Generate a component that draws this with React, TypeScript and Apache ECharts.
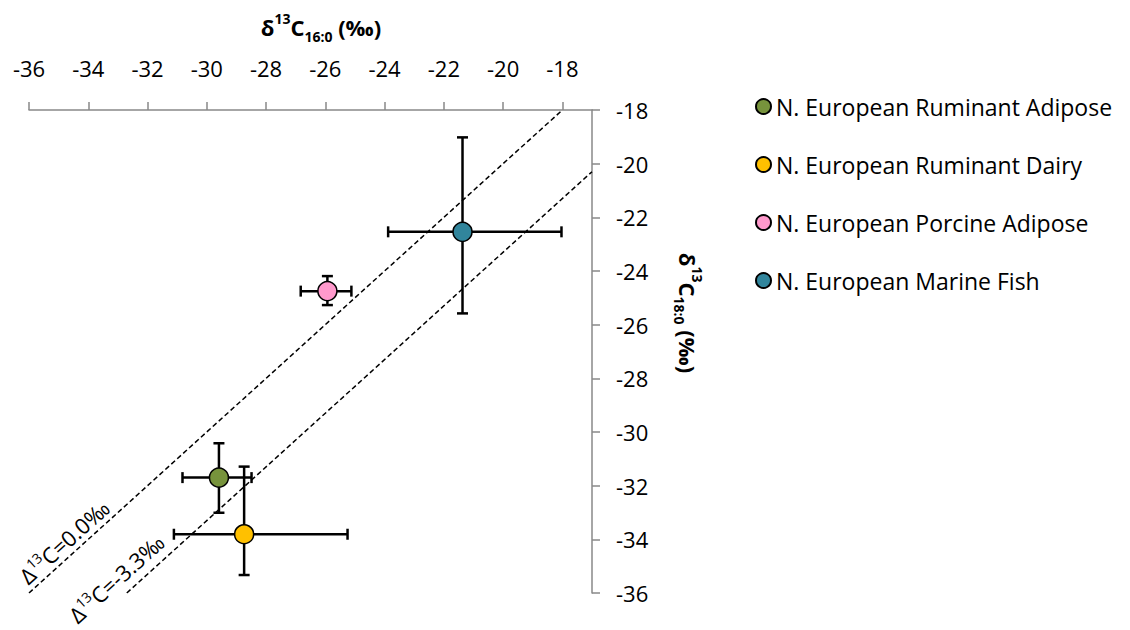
import React, { useEffect, useRef } from "react";
import * as echarts from "echarts";

// ---- Data ----
const seriesNames = [
  "N. European Ruminant Adipose",
  "N. European Ruminant Dairy",
  "N. European Porcine Adipose",
  "N. European Marine Fish",
];
const seriesColors = ["#77933C", "#FFC000", "#FF99CC", "#31859C"];
const xMean = [-29.59, -28.74, -25.93, -21.37]; // δ13C16:0
const yMean = [-31.7, -33.81, -24.75, -22.54]; // δ13C18:0
const xLow = [-30.82, -31.11, -26.83, -23.88];
const xHigh = [-28.49, -25.25, -25.12, -18.03];
const yLow = [-33.01, -35.33, -25.27, -25.58];
const yHigh = [-30.42, -31.29, -24.19, -19.02];

// reference lines (Δ13C = δ18:0 − δ16:0)
const line0X = [-36, -18];
const line0Y = [-36, -18];
const line33X = [-32.7, -17];
const line33Y = [-36, -20.3];

// line label anchors (data coords)
const lineLabels = [
  { text: "{a|Δ}{s|13}{a|C=0.0‰}", at: [-34.82, -34.08] },
  { text: "{a|Δ}{s|13}{a|C=-3.3‰}", at: [-33.06, -35.45] },
];

const xTitle = "{b|δ}{sup|13}{b|C}{sub|16:0}{b| (‰)}";
const yTitle = "{b|δ}{sup|13}{b|C}{sub|18:0}{b| (‰)}";

const xMin = -36;
const xMax = -17;
const yMin = -36;
const yMax = -18;
const tickStep = 2;

const FONT = "Open Sans";
const axisGrey = "#898989";

export default function App() {
  const ref = useRef<HTMLDivElement>(null);

  useEffect(() => {
    if (!ref.current) return;
    const chart = echarts.init(ref.current, undefined, { renderer: "svg" });

    const errData = xMean.map((x, i) => [x, yMean[i], xLow[i], xHigh[i], yLow[i], yHigh[i]]);

    const titleRich = {
      b: { fontSize: 22, fontWeight: "bold", fontFamily: FONT, fill: "#000", lineHeight: 32 },
      sup: { fontSize: 14, fontWeight: "bold", fontFamily: FONT, fill: "#000", verticalAlign: "top", lineHeight: 14 },
      sub: { fontSize: 14, fontWeight: "bold", fontFamily: FONT, fill: "#000", verticalAlign: "bottom", lineHeight: 14 },
    };

    const option: any = {
      animation: false,
      backgroundColor: "#fff",
      grid: { left: 29, right: 538, top: 110, bottom: 37 },
      legend: {
        orient: "vertical",
        left: 755,
        top: 95,
        padding: 0,
        icon: "circle",
        itemWidth: 15,
        itemHeight: 15,
        itemGap: 35,
        data: seriesNames,
        textStyle: { fontSize: 23, fontFamily: FONT, color: "#000" },
      },
      xAxis: {
        type: "value",
        position: "top",
        min: xMin,
        max: xMax,
        interval: tickStep,
        splitLine: { show: false },
        axisLine: { show: true, onZero: false, lineStyle: { color: axisGrey, width: 1.5 } },
        axisTick: { show: true, length: 8, lineStyle: { color: axisGrey, width: 1.5 } },
        axisLabel: { fontSize: 22, fontFamily: FONT, color: "#000", margin: 31, showMaxLabel: false },
      },
      yAxis: {
        type: "value",
        position: "right",
        min: yMin,
        max: yMax,
        interval: tickStep,
        splitLine: { show: false },
        axisLine: { show: true, onZero: false, lineStyle: { color: axisGrey, width: 1.5 } },
        axisTick: { show: true, length: 8, lineStyle: { color: axisGrey, width: 1.5 } },
        axisLabel: { fontSize: 22, fontFamily: FONT, color: "#000", margin: 24 },
      },
      series: [
        {
          type: "line",
          name: "line0",
          data: line0X.map((x, i) => [x, line0Y[i]]),
          showSymbol: false,
          symbol: "none",
          lineStyle: { color: "#000", width: 1.5, type: [5, 3] },
          z: 1,
          silent: true,
        },
        {
          type: "line",
          name: "line33",
          data: line33X.map((x, i) => [x, line33Y[i]]),
          showSymbol: false,
          symbol: "none",
          lineStyle: { color: "#000", width: 1.5, type: [5, 3] },
          z: 1,
          silent: true,
        },
        {
          type: "custom",
          name: "errors",
          data: errData,
          encode: { x: 0, y: 1 },
          z: 2,
          renderItem: (params: any, api: any) => {
            const xv = api.value(0);
            const yv = api.value(1);
            const xl = api.coord([api.value(2), yv]);
            const xh = api.coord([api.value(3), yv]);
            const yl = api.coord([xv, api.value(4)]);
            const yh = api.coord([xv, api.value(5)]);
            const cap = 5.5;
            const style = { stroke: "#000", lineWidth: 2.5, fill: null };
            const mk = (x1: number, y1: number, x2: number, y2: number) => ({
              type: "line",
              shape: { x1, y1, x2, y2 },
              style,
            });
            return {
              type: "group",
              children: [
                mk(xl[0], xl[1], xh[0], xh[1]),
                mk(xl[0], xl[1] - cap, xl[0], xl[1] + cap),
                mk(xh[0], xh[1] - cap, xh[0], xh[1] + cap),
                mk(yl[0], yl[1], yh[0], yh[1]),
                mk(yl[0] - cap, yl[1], yl[0] + cap, yl[1]),
                mk(yh[0] - cap, yh[1], yh[0] + cap, yh[1]),
              ],
            };
          },
        },
        ...seriesNames.map((name, i) => ({
          type: "scatter",
          name,
          data: [[xMean[i], yMean[i]]],
          symbol: "circle",
          symbolSize: 19,
          itemStyle: { color: seriesColors[i], borderColor: "#000", borderWidth: 1.5, opacity: 1 },
          z: 3,
        })),
      ],
    };

    chart.setOption(option);

    // rotated labels along the reference lines
    const p1 = chart.convertToPixel({ gridIndex: 0 }, [line0X[0], line0Y[0]]) as number[];
    const p2 = chart.convertToPixel({ gridIndex: 0 }, [line0X[1], line0Y[1]]) as number[];
    const angle = Math.atan2(-(p2[1] - p1[1]), p2[0] - p1[0]);
    const graphics: any[] = lineLabels.map((l) => {
      const p = chart.convertToPixel({ gridIndex: 0 }, l.at) as number[];
      return {
        type: "text",
        x: p[0],
        y: p[1],
        rotation: angle,
        z: 10,
        style: {
          text: l.text,
          align: "center",
          verticalAlign: "middle",
          rich: {
            a: { fontSize: 22, fontFamily: FONT, fill: "#000", lineHeight: 26 },
            s: { fontSize: 14, fontFamily: FONT, fill: "#000", verticalAlign: "top", lineHeight: 14 },
          },
        },
      };
    });
    graphics.push({
      type: "text",
      x: 321,
      y: 27,
      z: 10,
      style: { text: xTitle, align: "center", verticalAlign: "middle", rich: titleRich },
    });
    graphics.push({
      type: "text",
      x: 688,
      y: 313,
      rotation: -Math.PI / 2,
      z: 10,
      style: { text: yTitle, align: "center", verticalAlign: "middle", rich: titleRich },
    });
    chart.setOption({ graphic: graphics });

    return () => chart.dispose();
  }, []);

  return (
    <div
      ref={ref}
      style={{ position: "fixed", left: 0, top: 0, width: 1130, height: 630, background: "#fff" }}
    />
  );
}
